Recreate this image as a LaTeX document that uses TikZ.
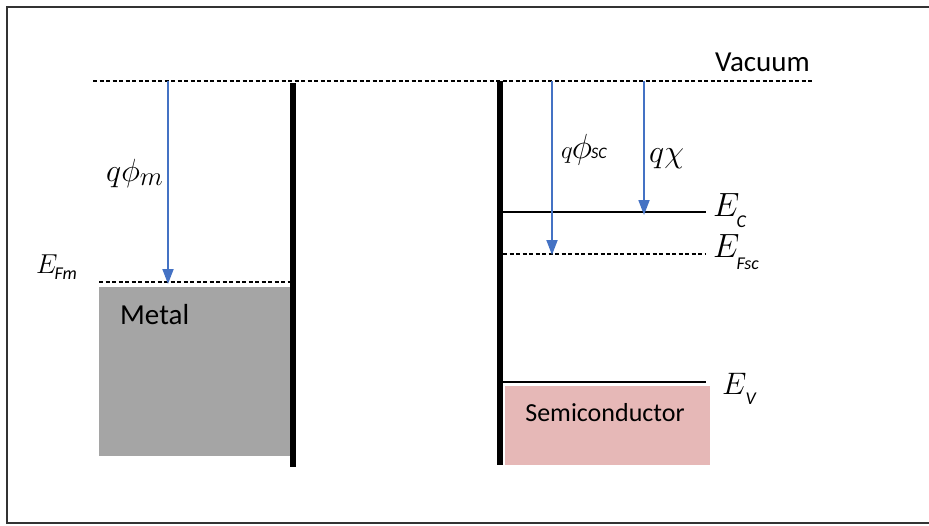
\documentclass[tikz,border=0pt]{standalone}
\usepackage{amsmath}
\usepackage{fontspec}
\setmainfont{Carlito}
\usetikzlibrary{arrows.meta}
\definecolor{phiblue}{HTML}{4472C4}
\definecolor{metalgray}{HTML}{A5A5A5}
\definecolor{scpink}{HTML}{E6B8B7}
% level label: E (scaled), lowered sans subscript
\newcommand{\elvl}[4]{\scalebox{#1}{$E$}\kern#2\raisebox{#3}{\fontsize{18}{18}\selectfont\itshape #4}}
\newcommand{\mbig}[1]{\scalebox{1.29}{$#1$}}

\begin{document}
\begin{tikzpicture}[
  x=1pt, y=-1pt,
  lvl/.style={line width=1.6pt},
  dashlvl/.style={line width=1.3pt, dash pattern=on 4pt off 2.5pt},
  wall/.style={line width=6pt},
  wf/.style={phiblue, line width=1.8pt, -{Triangle[length=15pt,width=11pt]}},
  lbl/.style={inner sep=0pt, font=\fontsize{29}{34}\selectfont},
  mlbl/.style={inner sep=0pt, font=\fontsize{24.88}{30}\selectfont},
  band/.style={inner sep=0pt, anchor=north west},
]
\useasboundingbox (0,0) rectangle (929,525);
\draw[black!80, line width=1.5pt] (930,7) -- (7,7) -- (7,523) -- (930,523);

%% bands
\node[band, fill=metalgray, minimum width=194pt, minimum height=169pt] (metal) at (99,287) {};
\node[band, fill=scpink, minimum width=205pt, minimum height=79pt] (sc) at (505,386) {};
\node[lbl, anchor=base west] (metaltxt) at (120,324) {Metal};
\node[lbl, anchor=base, font=\fontsize{26}{30}\selectfont] (sctxt) at (605,421) {Semiconductor};

%% energy levels
\coordinate (vacL) at (93,81);
\coordinate (vacR) at (812,81);
\draw[dashlvl] (vacL) -- (vacR);
\node[lbl, anchor=base west] (vac) at (715,71) {Vacuum};

\coordinate (efmL) at (99,282);
\coordinate (efmR) at (292,282);
\draw[dashlvl] (efmL) -- (efmR);
\node[mlbl, anchor=base west] (efm) at (36,273) {\elvl{1.1}{-3pt}{-6pt}{Fm}};

\coordinate (ecL) at (503,212);
\coordinate (ecR) at (706,212);
\draw[lvl] (ecL) -- (ecR);
\node[mlbl, anchor=base west] (ec) at (713,216) {\elvl{1.35}{-3pt}{-11pt}{C}};

\coordinate (efsL) at (503,254);
\coordinate (efsR) at (706,254);
\draw[dashlvl] (efsL) -- (efsR);
\node[mlbl, anchor=base west] (efs) at (713,257) {\elvl{1.35}{-3pt}{-12pt}{Fsc}};

\coordinate (evL) at (503,382);
\coordinate (evR) at (706,382);
\draw[lvl] (evL) -- (evR);
\node[mlbl, anchor=base west] (ev) at (722,394) {\elvl{1.25}{-1pt}{-10pt}{V}};

%% walls
\coordinate (mwT) at (293,83);
\coordinate (mwB) at (293,467);
\draw[wall] (mwT) -- (mwB);
\coordinate (swT) at (500,81);
\coordinate (swB) at (500,465);
\draw[wall] (swT) -- (swB);

%% work functions
\coordinate (phimT) at (168,81);
\coordinate (phimB) at (168,284);
\draw[wf] (phimT) -- (phimB);
\node[mlbl, anchor=base west] (phim) at (106,181) {\mbig{q\phi_{m}}};

\coordinate (phisT) at (552,81);
\coordinate (phisB) at (552,255);
\draw[wf] (phisT) -- (phisB);
\node[mlbl, anchor=base west] (phis) at (561,158)
  {$q$\kern-1pt\scalebox{1.4}{$\phi$}\kern-1pt{\fontsize{16}{16}\selectfont\itshape SC}};

\coordinate (chiT) at (644,81);
\coordinate (chiB) at (644,215);
\draw[wf] (chiT) -- (chiB);
\node[mlbl, anchor=base west] (chi) at (649,162) {\mbig{q\chi}};
\end{tikzpicture}
\end{document}
